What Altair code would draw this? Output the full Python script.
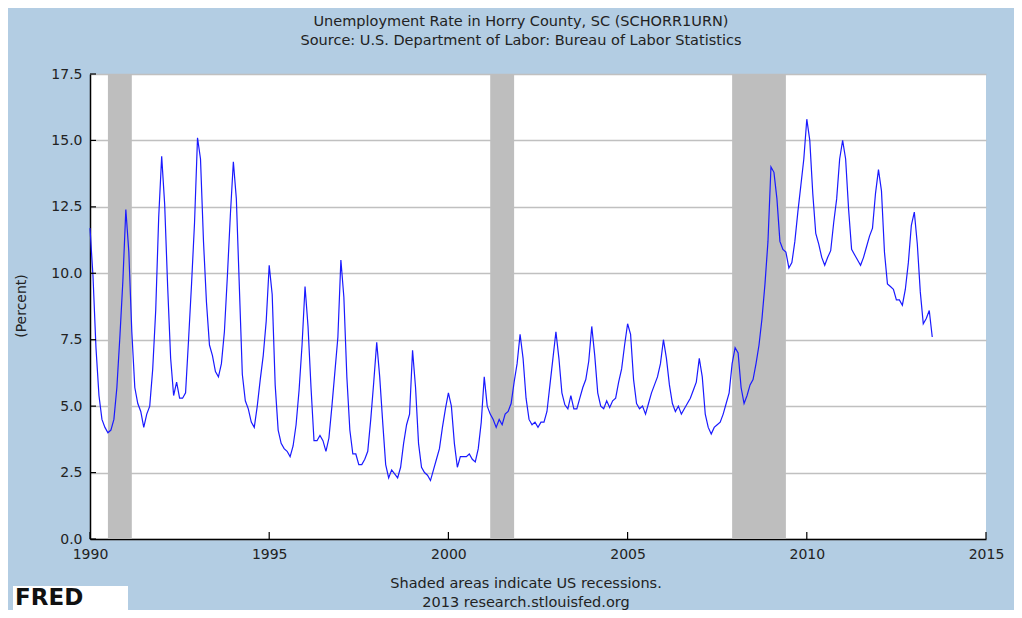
import altair as alt
import pandas as pd

# Monthly unemployment rate, Horry County SC, Jan 1990 - Jul 2013 (percent, not seasonally adjusted)
rate_1990 = [11.7, 9.9, 7.2, 5.4, 4.5, 4.2, 4.0, 4.1, 4.5, 5.7, 7.6, 9.7]
rate_1991 = [12.4, 10.8, 7.8, 5.7, 5.1, 4.8, 4.2, 4.7, 5.0, 6.4, 8.6, 12.1]
rate_1992 = [14.4, 12.6, 9.5, 6.8, 5.4, 5.9, 5.3, 5.3, 5.5, 7.5, 9.6, 11.9]
rate_1993 = [15.1, 14.3, 11.2, 8.9, 7.3, 6.9, 6.3, 6.1, 6.6, 7.8, 9.9, 12.2]
rate_1994 = [14.2, 12.8, 9.5, 6.2, 5.2, 4.9, 4.4, 4.2, 5.0, 6.0, 6.9, 8.2]
rate_1995 = [10.3, 9.2, 5.8, 4.1, 3.6, 3.4, 3.3, 3.1, 3.5, 4.3, 5.6, 7.3]
rate_1996 = [9.5, 8.0, 5.7, 3.7, 3.7, 3.9, 3.7, 3.3, 3.8, 5.0, 6.3, 7.6]
rate_1997 = [10.5, 9.1, 6.1, 4.1, 3.2, 3.2, 2.8, 2.8, 3.0, 3.3, 4.5, 5.9]
rate_1998 = [7.4, 6.1, 4.4, 2.8, 2.3, 2.6, 2.45, 2.3, 2.7, 3.6, 4.3, 4.7]
rate_1999 = [7.1, 5.7, 3.6, 2.7, 2.5, 2.4, 2.2, 2.6, 3.0, 3.4, 4.2, 4.9]
rate_2000 = [5.5, 5.0, 3.6, 2.7, 3.1, 3.1, 3.1, 3.2, 3.0, 2.9, 3.4, 4.4]
rate_2001 = [6.1, 5.0, 4.7, 4.5, 4.2, 4.5, 4.3, 4.7, 4.8, 5.1, 5.9, 6.6]
rate_2002 = [7.7, 6.8, 5.3, 4.5, 4.3, 4.4, 4.2, 4.4, 4.4, 4.8, 5.8, 6.8]
rate_2003 = [7.8, 6.8, 5.5, 5.05, 4.9, 5.4, 4.9, 4.9, 5.3, 5.7, 6.0, 6.7]
rate_2004 = [8.0, 6.9, 5.5, 5.0, 4.9, 5.2, 4.95, 5.2, 5.3, 5.9, 6.4, 7.3]
rate_2005 = [8.1, 7.7, 6.0, 5.1, 4.9, 5.0, 4.7, 5.1, 5.5, 5.8, 6.1, 6.6]
rate_2006 = [7.5, 6.8, 5.8, 5.1, 4.8, 5.0, 4.7, 4.9, 5.1, 5.3, 5.6, 5.9]
rate_2007 = [6.8, 6.1, 4.7, 4.2, 3.95, 4.2, 4.3, 4.4, 4.7, 5.1, 5.5, 6.6]
rate_2008 = [7.2, 7.0, 5.7, 5.1, 5.4, 5.8, 6.0, 6.6, 7.3, 8.3, 9.6, 11.2]
rate_2009 = [14.0, 13.8, 12.8, 11.2, 10.9, 10.8, 10.2, 10.4, 11.2, 12.3, 13.3, 14.3]
rate_2010 = [15.8, 15.0, 13.0, 11.5, 11.1, 10.6, 10.3, 10.6, 10.85, 11.9, 12.8, 14.3]
rate_2011 = [15.0, 14.3, 12.4, 10.9, 10.7, 10.5, 10.3, 10.6, 11.0, 11.4, 11.7, 13.0]
rate_2012 = [13.9, 13.1, 10.8, 9.6, 9.5, 9.4, 9.0, 9.0, 8.8, 9.4, 10.4, 11.8]
rate_2013 = [12.3, 11.1, 9.3, 8.1, 8.3, 8.6, 7.6]

yearly = [rate_1990, rate_1991, rate_1992, rate_1993, rate_1994, rate_1995, rate_1996,
          rate_1997, rate_1998, rate_1999, rate_2000, rate_2001, rate_2002, rate_2003,
          rate_2004, rate_2005, rate_2006, rate_2007, rate_2008, rate_2009, rate_2010,
          rate_2011, rate_2012, rate_2013]
start_year = 1990

# US recessions (fractional years)
rec_start = [1990 + 6 / 12, 2001 + 2 / 12, 2007 + 11 / 12]
rec_end = [1991 + 2 / 12, 2001 + 10 / 12, 2009 + 5 / 12]
rec_low = [0.0, 0.0, 0.0]
rec_high = [17.5, 17.5, 17.5]

x_ticks = [1990, 1995, 2000, 2005, 2010, 2015]
y_ticks = [0.0, 2.5, 5.0, 7.5, 10.0, 12.5, 15.0, 17.5]

title_lines = ["Unemployment Rate in Horry County, SC (SCHORR1URN)",
               "Source: U.S. Department of Labor: Bureau of Labor Statistics"]
foot_lines = ["Shaded areas indicate US recessions.",
              "2013 research.stlouisfed.org"]
y_title = "(Percent)"
logo_text = "FRED"

rows = []
for yi, vals in enumerate(yearly):
    for mi, v in enumerate(vals):
        rows.append({"t": start_year + yi + mi / 12, "v": v})
df = pd.DataFrame(rows)
rec_df = pd.DataFrame({"t": rec_start, "e": rec_end, "v": rec_low, "v2": rec_high})

FONT = "DejaVu Sans"
TXT = "#222222"
W, H = 896, 465
xs = alt.Scale(domain=[1990, 2015], nice=False, zero=False)
ys = alt.Scale(domain=[0, 17.5], nice=False, zero=True)

xa = alt.Axis(values=x_ticks, format="d", grid=False, ticks=False, title=None,
              labelPadding=8, domainColor="#000000", domainWidth=1.5,
              labelFont=FONT, labelFontSize=14, labelColor=TXT, labelFlush=False)
ya = alt.Axis(values=y_ticks, format=".1f", grid=True, gridColor="#c0c0c0",
              gridWidth=1.5, ticks=False, labelPadding=8, title=None,
              domainColor="#000000", domainWidth=1.5,
              labelFont=FONT, labelFontSize=14, labelColor=TXT)

rec = alt.Chart(rec_df).mark_rect(color="#bebebe").encode(
    x=alt.X("t:Q", scale=xs, axis=xa),
    x2="e:Q",
    y=alt.Y("v:Q", scale=ys, axis=ya),
    y2="v2:Q",
)

line = alt.Chart(df).mark_line(color="#1a1aff", strokeWidth=1.2).encode(
    x=alt.X("t:Q", scale=xs, axis=xa),
    y=alt.Y("v:Q", scale=ys, axis=ya),
)

ytick_df = pd.DataFrame({"v": y_ticks})
xtick_df = pd.DataFrame({"t": x_ticks})
ytk = alt.Chart(ytick_df).mark_rule(color="#000000", strokeWidth=1.2).encode(
    y=alt.Y("v:Q", scale=ys, axis=ya), x=alt.value(0), x2=alt.value(6))
xtk = alt.Chart(xtick_df).mark_rule(color="#000000", strokeWidth=1.2).encode(
    x=alt.X("t:Q", scale=xs, axis=xa), y=alt.value(H), y2=alt.value(H - 7))

texts = []
for i, t in enumerate(title_lines):
    texts.append(alt.Chart(pd.DataFrame({"s": [t]})).mark_text(
        font=FONT, fontSize=14.5, color=TXT, align="center", baseline="alphabetic").encode(
        text="s:N", x=alt.value(431), y=alt.value(-48 + i * 19)))
for i, t in enumerate(foot_lines):
    texts.append(alt.Chart(pd.DataFrame({"s": [t]})).mark_text(
        font=FONT, fontSize=14.5, color=TXT, align="center", baseline="alphabetic").encode(
        text="s:N", x=alt.value(436), y=alt.value(514 + i * 19)))
texts.append(alt.Chart(pd.DataFrame({"s": [y_title]})).mark_text(
    font=FONT, fontSize=14, color=TXT, align="center", baseline="middle", angle=270).encode(
    text="s:N", x=alt.value(-68), y=alt.value(232)))

logo_box = alt.Chart(pd.DataFrame({"s": [logo_text]})).mark_rect(color="#ffffff").encode(
    x=alt.value(-77), x2=alt.value(38), y=alt.value(512), y2=alt.value(536))
logo = alt.Chart(pd.DataFrame({"s": [logo_text]})).mark_text(
    font=FONT, fontSize=23, fontWeight="bold", color="#111111",
    align="left", baseline="middle").encode(
    text="s:N", x=alt.value(-75), y=alt.value(524))

chart = alt.layer(rec, line, ytk, xtk, logo_box, logo, *texts).properties(
    width=W, height=H,
    padding={"left": 82, "top": 66, "right": 28, "bottom": 71},
    autosize=alt.AutoSizeParams(type="none"),
    background="#b3cde3",
).configure_view(fill="#ffffff", strokeWidth=0)

chart.save("out.html", embed_options={"renderer": "svg", "actions": False})
